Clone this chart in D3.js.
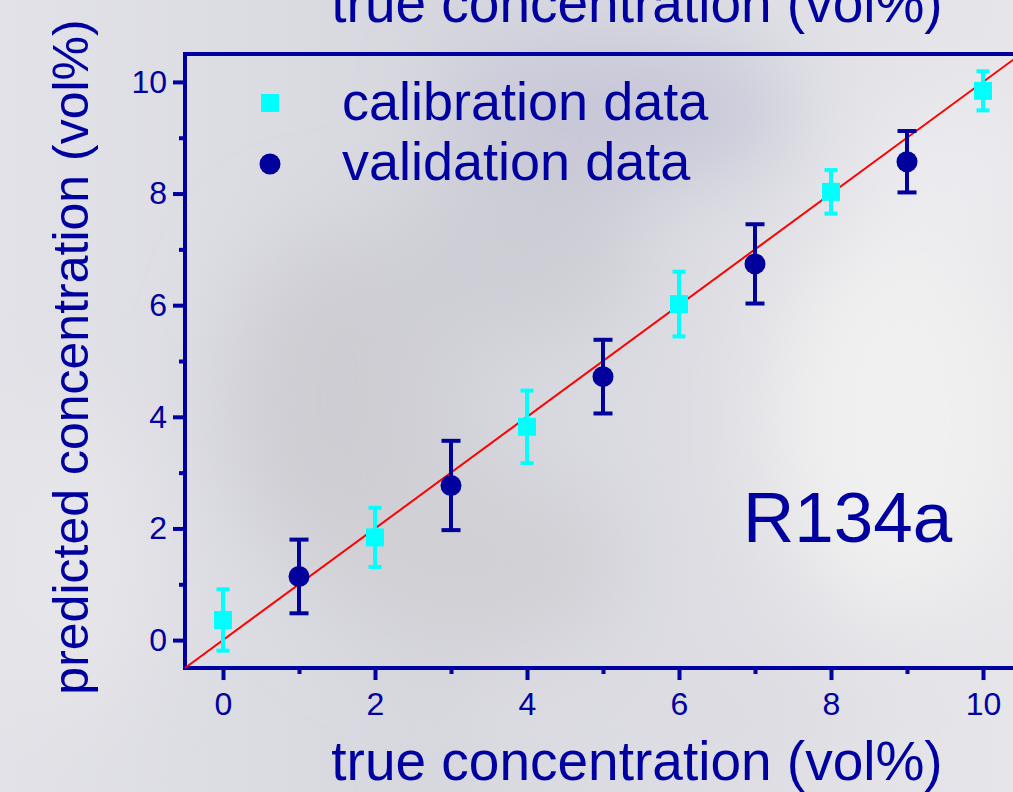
<!DOCTYPE html>
<html>
<head>
<meta charset="utf-8">
<script src="https://cdn.jsdelivr.net/npm/d3@7"></script>
<style>
  html, body { margin: 0; padding: 0; overflow: hidden; }
  svg { display: block; }
</style>
</head>
<body>
<svg></svg>
<script>
const WIDTH = 1013;
const HEIGHT = 792;
const AXIS_COLOR = '#0000a0';

// calibration data (cyan squares)
const calX = [0, 2, 4, 6, 8, 10];
const calY = [0.36, 1.84, 3.82, 6.02, 8.03, 9.84];
const calErr = [0.55, 0.53, 0.65, 0.58, 0.39, 0.35];

// validation data (navy circles)
const valX = [1, 3, 5, 7, 9];
const valY = [1.14, 2.77, 4.72, 6.74, 8.57];
const valErr = [0.66, 0.8, 0.66, 0.71, 0.55];

const majorTicks = [0, 2, 4, 6, 8, 10];
const minorTicks = [1, 3, 5, 7, 9];
const domainX = [-0.5, 10.5];
const domainY = [-0.5, 10.5];

const svg = d3.select('svg')
  .attr('width', WIDTH)
  .attr('height', HEIGHT)
  .attr('font-family', '"Liberation Sans", Arial, sans-serif');

// --- background (cloudy grey texture) ---
const defs = svg.append('defs');
const blur = defs.append('filter').attr('id', 'blur')
  .attr('x', '-50%').attr('y', '-50%').attr('width', '200%').attr('height', '200%');
blur.append('feGaussianBlur').attr('stdDeviation', 45);

const bgGrad = defs.append('linearGradient').attr('id', 'bgGrad')
  .attr('x1', '0').attr('y1', '0').attr('x2', '1').attr('y2', '0');
bgGrad.append('stop').attr('offset', '0%').attr('stop-color', '#e2e2e8');
bgGrad.append('stop').attr('offset', '45%').attr('stop-color', '#d6d6de');
bgGrad.append('stop').attr('offset', '100%').attr('stop-color', '#e6e6ea');

svg.append('rect').attr('width', WIDTH).attr('height', HEIGHT).attr('fill', 'url(#bgGrad)');

const clouds = [
  [620, 110, 170, 70, '#c6c6d8'],
  [340, 400, 110, 170, '#cdcdd3'],
  [520, 250, 120, 90, '#cdcdd5'],
  [470, 560, 150, 90, '#d0d0d5'],
  [900, 420, 130, 200, '#f0f0f0'],
  [950, 180, 90, 80, '#ececf0'],
  [60, 560, 80, 150, '#e6e6ea'],
  [640, 720, 200, 60, '#dcdce2']
];
const cloudG = svg.append('g').attr('filter', 'url(#blur)');
clouds.forEach(c => {
  cloudG.append('ellipse').attr('cx', c[0]).attr('cy', c[1])
    .attr('rx', c[2]).attr('ry', c[3]).attr('fill', c[4]);
});

// --- scales ---
const x = d3.scaleLinear().domain(domainX).range([185, 1021]);
const y = d3.scaleLinear().domain(domainY).range([668, 54]);

// --- axes ---
const xAxis = d3.axisBottom(x).tickValues(majorTicks).tickSize(12).tickSizeOuter(0).tickPadding(12);
const xMinor = d3.axisBottom(x).tickValues(minorTicks).tickSize(6).tickSizeOuter(0).tickFormat('');
const yAxis = d3.axisLeft(y).tickValues(majorTicks).tickSize(12).tickSizeOuter(0).tickPadding(6);
const yMinor = d3.axisLeft(y).tickValues(minorTicks).tickSize(6).tickSizeOuter(0).tickFormat('');

function styleAxis(g) {
  g.select('.domain').remove();
  g.selectAll('line').attr('stroke', AXIS_COLOR).attr('stroke-width', 4);
  g.selectAll('text').attr('fill', AXIS_COLOR).attr('font-size', 32)
    .attr('font-family', '"Liberation Sans", Arial, sans-serif');
}

svg.append('g').attr('transform', `translate(0,${y(domainY[0])})`).call(xAxis).call(styleAxis);
svg.append('g').attr('transform', `translate(0,${y(domainY[0])})`).call(xMinor).call(styleAxis);
svg.append('g').attr('transform', `translate(${x(domainX[0])},0)`).call(yAxis).call(styleAxis);
svg.append('g').attr('transform', `translate(${x(domainX[0])},0)`).call(yMinor).call(styleAxis);

// frame
const frame = svg.append('g').attr('stroke', AXIS_COLOR).attr('stroke-width', 4).attr('fill', 'none');
frame.append('path').attr('d', `M${x(domainX[0])},${y(domainY[0])}H${x(domainX[1])}`);
frame.append('path').attr('d', `M${x(domainX[0])},${y(domainY[0]) + 2}V${y(domainY[1])}`);
frame.append('path').attr('d', `M${x(domainX[0]) - 2},${y(domainY[1])}H${x(domainX[1])}`);
frame.append('path').attr('d', `M${x(domainX[1])},${y(domainY[0])}V${y(domainY[1])}`);

// --- 1:1 line ---
svg.append('line')
  .attr('x1', x(domainX[0])).attr('y1', y(domainY[0]))
  .attr('x2', x(domainX[1])).attr('y2', y(domainY[1]))
  .attr('stroke', '#ff0000').attr('stroke-width', 2);

// --- error bars + markers ---
function errorBars(xs, ys, errs, color, capW) {
  const g = svg.append('g').attr('stroke', color).attr('stroke-width', 4);
  xs.forEach((xv, i) => {
    const cx = x(xv);
    const top = y(ys[i] + errs[i]);
    const bot = y(ys[i] - errs[i]);
    g.append('line').attr('x1', cx).attr('x2', cx).attr('y1', top).attr('y2', bot);
    g.append('line').attr('x1', cx - capW / 2).attr('x2', cx + capW / 2).attr('y1', top).attr('y2', top);
    g.append('line').attr('x1', cx - capW / 2).attr('x2', cx + capW / 2).attr('y1', bot).attr('y2', bot);
  });
}

errorBars(calX, calY, calErr, '#00ffff', 13);
errorBars(valX, valY, valErr, '#00009c', 19);

svg.append('g').selectAll('rect')
  .data(calX).enter().append('rect')
  .attr('x', d => x(d) - 9)
  .attr('y', (d, i) => y(calY[i]) - 9)
  .attr('width', 18).attr('height', 18)
  .attr('fill', '#00ffff');

svg.append('g').selectAll('circle')
  .data(valX).enter().append('circle')
  .attr('cx', d => x(d))
  .attr('cy', (d, i) => y(valY[i]))
  .attr('r', 10.5)
  .attr('fill', '#00009c');

// --- legend ---
const legend = svg.append('g');
legend.append('rect').attr('x', 261).attr('y', 94).attr('width', 18).attr('height', 18).attr('fill', '#00ffff');
legend.append('circle').attr('cx', 270).attr('cy', 164).attr('r', 10.5).attr('fill', '#00009c');
legend.append('text').attr('x', 342).attr('y', 120).attr('font-size', 54).attr('fill', AXIS_COLOR).text('calibration data');
legend.append('text').attr('x', 342).attr('y', 180).attr('font-size', 54).attr('fill', AXIS_COLOR).text('validation data');

// --- labels ---
svg.append('text').attr('x', 743).attr('y', 542).attr('font-size', 71).attr('fill', AXIS_COLOR).text('R134a');

svg.append('text').attr('x', 637).attr('y', 780).attr('text-anchor', 'middle')
  .attr('font-size', 55).attr('fill', AXIS_COLOR).text('true concentration (vol%)');

// top copy of the axis title, partly outside the picture as in the original
svg.append('text').attr('x', 637).attr('y', 22).attr('text-anchor', 'middle')
  .attr('font-size', 55).attr('fill', AXIS_COLOR).text('true concentration (vol%)');

svg.append('text')
  .attr('transform', 'translate(88,357) rotate(-90)')
  .attr('text-anchor', 'middle')
  .attr('font-size', 50).attr('fill', AXIS_COLOR).text('predicted concentration (vol%)');
</script>
</body>
</html>
